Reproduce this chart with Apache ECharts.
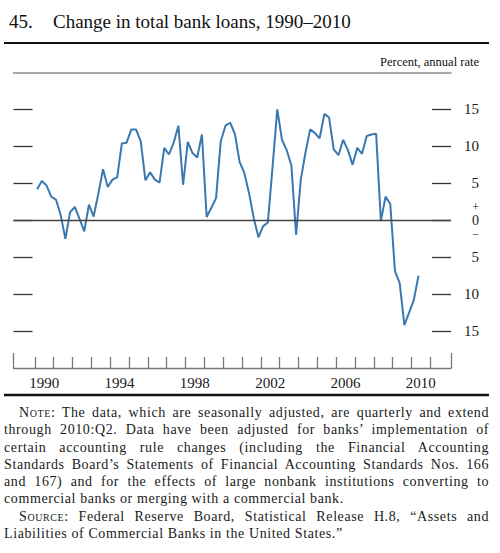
<!DOCTYPE html>
<html>
<head>
<meta charset="utf-8">
<script src="https://cdn.jsdelivr.net/npm/echarts@6/dist/echarts.min.js"></script>
<style>
  html, body { margin: 0; padding: 0; background: #fff; }
  #wrap { position: relative; width: 500px; height: 553px; }
  #chart { position: absolute; left: 0; top: 0; width: 500px; height: 553px; }
  #note {
    position: absolute; left: 4px; top: 404px; width: 485px;
    font-family: "Liberation Serif", "Times New Roman", serif;
    font-size: 14px; line-height: 17.3px; letter-spacing: 0.6px; color: #1a1a1a;
    text-align: justify;
  }
  #note p { margin: 0; text-indent: 15px; }
  .sc { font-variant: small-caps; }
</style>
</head>
<body>
<div id="wrap">
  <div id="chart"></div>
  <div id="note">
    <p><span class="sc">Note:</span> The data, which are seasonally adjusted, are quarterly and extend through 2010:Q2. Data have been adjusted for banks’ implementation of certain accounting rule changes (including the Financial Accounting Standards Board’s Statements of Financial Accounting Standards Nos. 166 and 167) and for the effects of large nonbank institutions converting to commercial banks or merging with a commercial bank.</p>
    <p><span class="sc">Source:</span> Federal Reserve Board, Statistical Release H.8, “Assets and Liabilities of Commercial Banks in the United States.”</p>
  </div>
</div>
<script>
  // quarterly series, 1990:Q1 through 2010:Q2 (percent, annual rate)
  var firstYear = 1990;
  var loanGrowth = [
    4.2, 5.3, 4.7, 3.2, 2.8, 0.7, -2.5, 1.1,
    1.8, 0.2, -1.5, 2.1, 0.5, 3.6, 6.9, 4.5,
    5.5, 5.8, 10.4, 10.5, 12.3, 12.3, 10.7, 5.4,
    6.5, 5.5, 5.1, 9.8, 8.9, 10.5, 12.8, 4.8,
    10.6, 9.1, 8.5, 11.6, 0.45, 1.7, 3.0, 10.7,
    12.8, 13.2, 11.7, 7.9, 6.4, 3.7, 0.3, -2.3,
    -0.8, -0.3, 7.2, 15.0, 10.9, 9.5, 7.4, -2.0,
    5.5, 9.2, 12.3, 11.8, 11.1, 14.4, 13.9, 9.6,
    8.8, 10.9, 9.5, 7.5, 9.8, 9.0, 11.4, 11.6,
    11.7, -0.1, 3.2, 2.2, -6.9, -8.5, -14.2, -12.5,
    -10.8, -7.5
  ];

  var yearTicks = [1990, 1991, 1992, 1993, 1994, 1995, 1996, 1997, 1998, 1999, 2000,
                   2001, 2002, 2003, 2004, 2005, 2006, 2007, 2008, 2009, 2010, 2011];
  var yearLabels = [1990, 1994, 1998, 2002, 2006, 2010];
  var valueTicks = [-15, -10, -5, 0, 5, 10, 15];

  var serif = '"Liberation Serif", "Times New Roman", serif';
  var ink = '#1a1a1a';

  // each quarter is plotted at its midpoint
  var points = loanGrowth.map(function(v, i) {
    return [firstYear + i / 4 + 0.125, v];
  });

  var chart = echarts.init(document.getElementById('chart'), null, { renderer: 'svg' });

  var option = {
    animation: false,
    backgroundColor: '#fff',
    title: {
      left: 4,
      top: 7,
      text: '{n|45.}{t|Change in total bank loans, 1990–2010}',
      textStyle: {
        fontWeight: 'normal',
        rich: {
          n: { width: 44, fontFamily: serif, fontSize: 19, fontWeight: 'normal', color: '#111' },
          t: { fontFamily: serif, fontSize: 19, fontWeight: 'normal', color: '#111' }
        }
      }
    },
    graphic: [
      { type: 'line', shape: { x1: 4, y1: 43, x2: 489, y2: 43 }, style: { stroke: '#111', lineWidth: 2 } },
      { type: 'line', shape: { x1: 4, y1: 395, x2: 489, y2: 395 }, style: { stroke: '#111', lineWidth: 2.5 } },
      {
        type: 'text', x: 479, y: 62,
        style: {
          text: 'Percent, annual rate', fill: '#111', font: '12.5px ' + serif,
          textAlign: 'right', textVerticalAlign: 'middle'
        }
      }
    ],
    grid: {
      left: 13.5, right: 49, top: 72.5, bottom: 185,
      outerBoundsMode: 'none'
    },
    xAxis: [
      {
        type: 'value', min: 1988.87, max: 2012.1, position: 'bottom',
        axisLine: { show: true, onZero: false, lineStyle: { color: '#777', width: 1.3 } },
        axisTick: { show: true, inside: true, length: 11, customValues: yearTicks,
                    lineStyle: { color: '#777', width: 1.3 } },
        axisLabel: {
          customValues: yearLabels.map(function(y) { return y + 0.5; }),
          formatter: function(v) { return String(Math.floor(v)); },
          margin: 7, fontFamily: serif, fontSize: 15, color: ink
        },
        splitLine: { show: false }
      },
      {
        // taller ticks closing both ends of the time axis
        type: 'value', min: 0, max: 1, interval: 1, position: 'bottom',
        axisLine: { show: false, onZero: false },
        axisTick: { show: true, inside: true, length: 15, lineStyle: { color: '#777', width: 1.3 } },
        axisLabel: { show: false },
        splitLine: { show: false }
      },
      {
        type: 'value', min: 0, max: 1, position: 'top',
        axisLine: { show: true, onZero: false, lineStyle: { color: '#8c8c8c', width: 1.5 } },
        axisTick: { show: false },
        axisLabel: { show: false },
        splitLine: { show: false }
      }
    ],
    yAxis: [
      {
        type: 'value', min: -20, max: 20, position: 'left',
        axisLine: { show: false, onZero: false },
        axisTick: { show: true, inside: true, length: 19, customValues: valueTicks,
                    lineStyle: { color: '#333', width: 1.3 } },
        axisLabel: { show: false },
        splitLine: { show: false }
      },
      {
        type: 'value', min: -20, max: 20, position: 'right',
        axisLine: { show: false, onZero: false },
        axisTick: { show: true, inside: true, length: 19, customValues: valueTicks,
                    lineStyle: { color: '#333', width: 1.3 } },
        axisLabel: {
          customValues: valueTicks,
          formatter: function(v) { return v === 0 ? '{s|+}\n{z|0}\n{s|−}' : String(Math.abs(v)); },
          align: 'right', margin: 28,
          fontFamily: serif, fontSize: 15, color: ink,
          rich: {
            s: { fontFamily: serif, fontSize: 12, lineHeight: 13.5, color: ink, align: 'right' },
            z: { fontFamily: serif, fontSize: 14, lineHeight: 14, color: ink, align: 'right' }
          }
        },
        splitLine: { show: false }
      }
    ],
    series: [
      {
        type: 'line',
        xAxisIndex: 0,
        yAxisIndex: 0,
        data: points,
        showSymbol: false,
        lineStyle: { color: '#3a78b0', width: 2 },
        markLine: {
          silent: true,
          symbol: 'none',
          label: { show: false },
          lineStyle: { color: '#444', width: 1.3, type: 'solid' },
          data: [{ yAxis: 0 }]
        },
        z: 3
      }
    ]
  };

  chart.setOption(option);
</script>
</body>
</html>
